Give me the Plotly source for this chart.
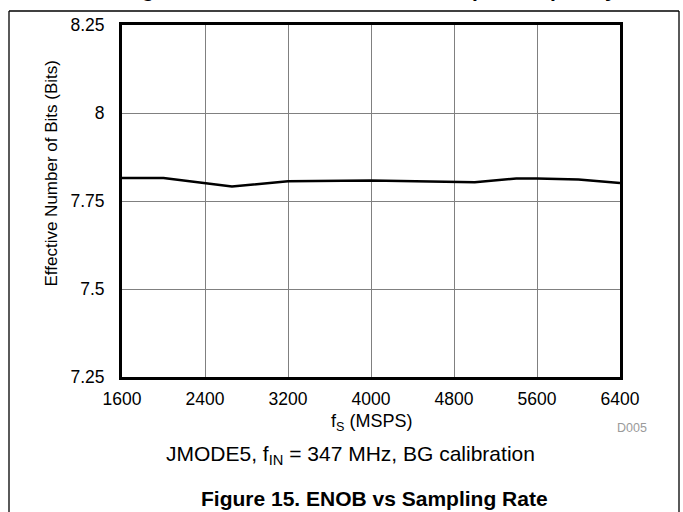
import plotly.graph_objects as go

# Data
fs_msps = [1600, 2000, 2660, 3200, 4000, 4800, 5000, 5400, 5600, 6000, 6400]
enob_bits = [7.815, 7.815, 7.791, 7.806, 7.808, 7.804, 7.803, 7.814, 7.814, 7.811, 7.801]

x_ticks = [1600, 2400, 3200, 4000, 4800, 5600, 6400]
y_ticks = [7.25, 7.5, 7.75, 8, 8.25]
y_tick_labels = ["7.25", "7.5", "7.75", "8", "8.25"]

W, H = 683, 512
L, R, T, B = 122, 620, 25, 377  # plot area in pixels

def px(xp):
    return (xp - L) / (R - L)

def py(yp):
    return (B - yp) / (B - T)

FONT = "Liberation Sans, Arial, sans-serif"

fig = go.Figure()
fig.add_trace(go.Scatter(
    x=fs_msps, y=enob_bits, mode="lines",
    line=dict(color="black", width=2.5), showlegend=False,
))

fig.update_layout(
    width=W, height=H,
    margin=dict(l=L, r=W - R, t=T, b=H - B),
    paper_bgcolor="white", plot_bgcolor="white",
    font=dict(family=FONT, color="black", size=17),
    xaxis=dict(
        range=[1600, 6400], tickvals=x_ticks, ticktext=[str(v) for v in x_ticks],
        showgrid=True, gridcolor="#808080", gridwidth=1,
        showline=True, linecolor="black", linewidth=3, mirror=True,
        ticks="", ticklabelstandoff=4, zeroline=False,
        tickfont=dict(size=17.5, family=FONT, color="black"),
    ),
    yaxis=dict(
        range=[7.25, 8.25], tickvals=y_ticks, ticktext=y_tick_labels,
        showgrid=True, gridcolor="#808080", gridwidth=1,
        showline=True, linecolor="black", linewidth=3, mirror=True,
        ticks="", ticklabelstandoff=11, zeroline=False,
        tickfont=dict(size=17.5, family=FONT, color="black"),
    ),
)

# Frame lines of the page cell
frame = dict(color="black", width=1.3)
fig.add_shape(type="line", xref="paper", yref="paper",
              x0=px(9), x1=px(679), y0=py(11), y1=py(11), line=frame)
fig.add_shape(type="line", xref="paper", yref="paper",
              x0=px(9), x1=px(9), y0=py(11), y1=py(520), line=frame)
fig.add_shape(type="line", xref="paper", yref="paper",
              x0=px(679), x1=px(679), y0=py(11), y1=py(520), line=frame)

ann = [
    dict(text="<b>Figure 14. SNR, SINAD, SFDR vs Input Frequency</b>", x=px(370), y=py(-10.5),
         font=dict(size=21)),
    dict(text="f<sub>S</sub> (MSPS)", x=0.5, y=py(422), font=dict(size=18)),
    dict(text="D005", x=px(632), y=py(428), font=dict(size=12.5, color="#9a9a9a")),
    dict(text="JMODE5, f<sub>IN</sub> = 347 MHz, BG calibration", x=px(350), y=py(455),
         font=dict(size=21)),
    dict(text="<b>Figure 15. ENOB vs Sampling Rate</b>", x=px(374), y=py(498),
         font=dict(size=21)),
    dict(text="Effective Number of Bits (Bits)", x=px(51), y=py(173.5), textangle=-90,
         font=dict(size=17)),
]
for a in ann:
    f = dict(family=FONT, color="black")
    f.update(a.pop("font"))
    fig.add_annotation(xref="paper", yref="paper", xanchor="center", yanchor="middle",
                       showarrow=False, font=f, **a)

fig.write_html("out.html", config={"displayModeBar": False},
               post_script="document.body.style.margin='0';document.body.style.overflow='hidden';")
